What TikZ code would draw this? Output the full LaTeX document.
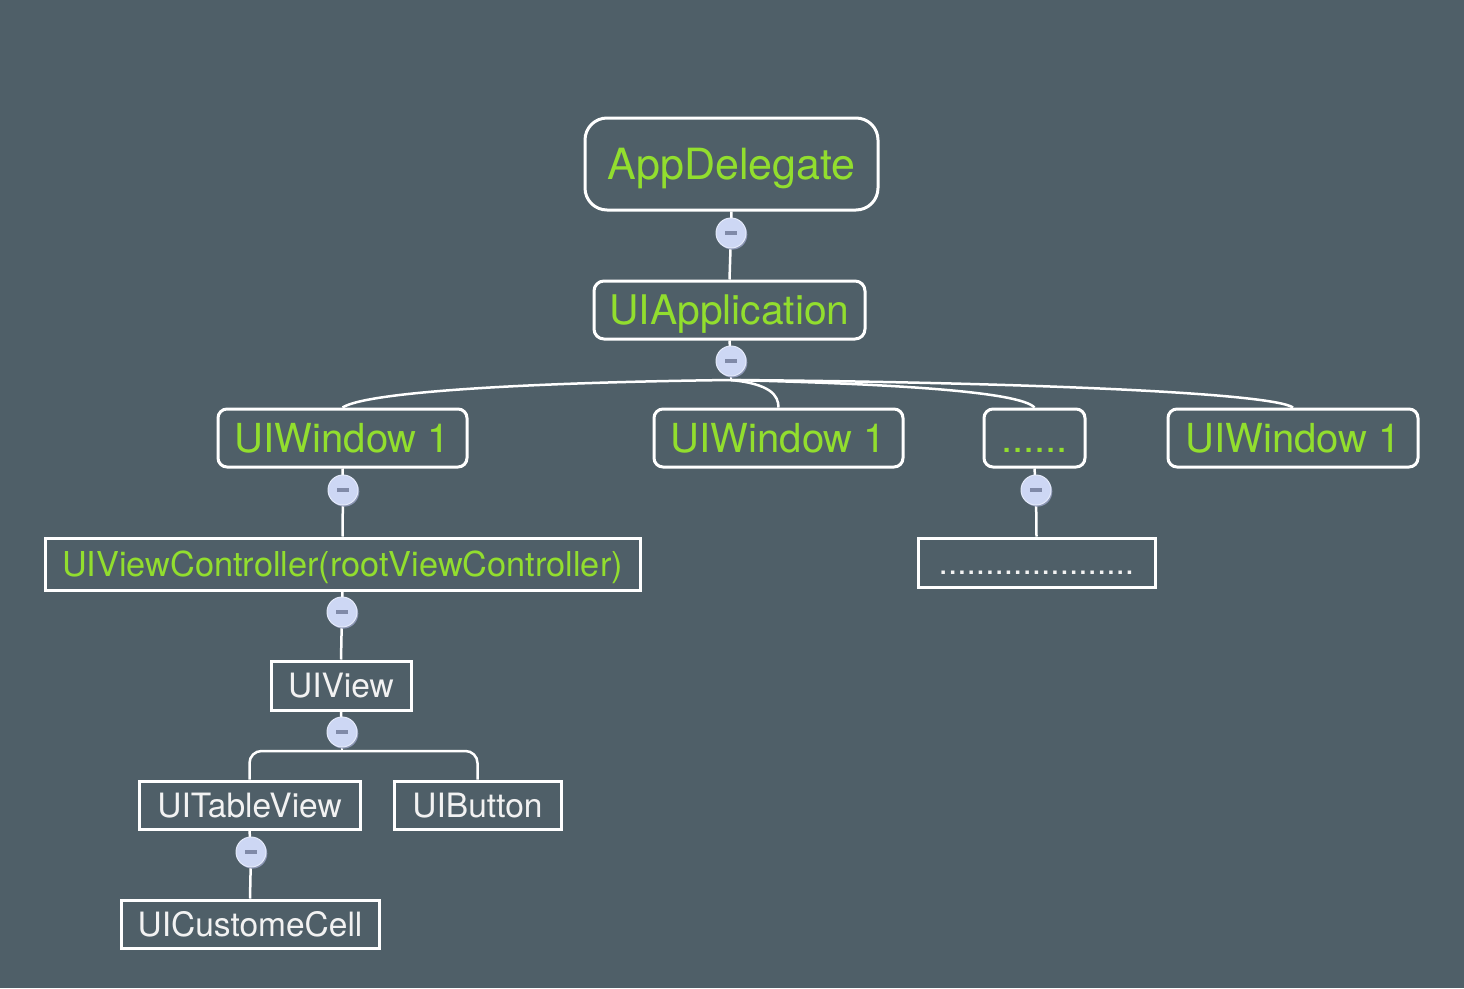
\documentclass[tikz,border=0pt]{standalone}
\usepackage{fontspec}
\setmainfont{TeX Gyre Heros}
\definecolor{bg}{RGB}{79,95,104}
\definecolor{grn}{RGB}{146,222,46}
\definecolor{knobfill}{RGB}{205,215,244}
\definecolor{knobedge}{RGB}{228,234,250}
\definecolor{knobshade}{RGB}{140,150,180}
\definecolor{minuscol}{RGB}{128,138,168}
\definecolor{txtwhite}{RGB}{242,242,242}
\tikzset{
  nb/.style={draw=white, line width=3pt, inner sep=0pt, text depth=0pt},
  rnd/.style={rounded corners=#1},
  gtxt/.style={text=grn},
  wtxt/.style={text=txtwhite},
  conn/.style={draw=white, line width=2.5pt},
  knob/.style={circle, fill=knobfill, draw=knobedge, line width=1pt, minimum size=30pt, inner sep=0pt,
    preaction={fill=knobshade, transform canvas={shift={(1.3pt,-1.6pt)}}},
    path picture={\draw[minuscol, line width=3.4pt] ([xshift=-6pt]path picture bounding box.center) -- ([xshift=6pt]path picture bounding box.center);}},
  big/.style={font=\fontsize{43}{43}\selectfont, text height=31pt},
  bigb/.style={font=\fontsize{40.8}{40.8}\selectfont, text height=29.4pt},
  mid/.style={font=\fontsize{40}{40}\selectfont, text height=28.8pt},
  sml/.style={font=\fontsize{33.5}{33.5}\selectfont, text height=24.1pt},
  vcf/.style={font=\fontsize{34.3}{34.3}\selectfont, text height=24.7pt},
}
\begin{document}
\begin{tikzpicture}[x=1pt,y=-1pt]
\fill[bg] (0,0) rectangle (1464,988);
\useasboundingbox (0,0) rectangle (1464,988);

% nodes
\node[nb, rnd=22pt, gtxt, big, minimum width=293pt, minimum height=92pt] (app) at (731.5,164) {AppDelegate};
\node[nb, rnd=10pt, gtxt, bigb, minimum width=271pt, minimum height=58pt] (uiapp) at (729.5,310) {UIApplication};
\node[nb, rnd=9pt, gtxt, mid, minimum width=249pt, minimum height=58pt] (w1) at (342.5,438) {UIWindow 1};
\node[nb, rnd=9pt, gtxt, mid, minimum width=249pt, minimum height=58pt] (w2) at (778.5,438) {UIWindow 1};
\node[nb, rnd=9pt, gtxt, mid, minimum width=101pt, minimum height=58pt] (w3) at (1034.5,438) {......};
\node[nb, rnd=9pt, gtxt, mid, minimum width=250pt, minimum height=58pt] (w4) at (1293,438) {UIWindow 1};
\node[nb, gtxt, vcf, minimum width=595pt, minimum height=52pt] (vc) at (342.5,564) {UIViewController(rootViewController)};
\node[nb, wtxt, sml, minimum width=237pt, minimum height=49pt] (dots) at (1036.5,562.5) {.....................};
\node[nb, wtxt, sml, minimum width=140pt, minimum height=49pt] (view) at (341,685.5) {UIView};
\node[nb, wtxt, sml, minimum width=221pt, minimum height=48pt] (table) at (249.5,805) {UITableView};
\node[nb, wtxt, sml, minimum width=167pt, minimum height=48pt] (button) at (477.5,805) {UIButton};
\node[nb, wtxt, sml, minimum width=258pt, minimum height=48pt] (cell) at (250,924) {UICustomeCell};

\coordinate (j2) at (731,380);
\coordinate (j6) at (342,751);

% connectors (drawn through knob centres, knobs on top)
\coordinate (k1c) at (731,233);
\coordinate (k2c) at (731,361);
\coordinate (k3c) at (343,490);
\coordinate (k4c) at (1036,490);
\coordinate (k5c) at (342,612);
\coordinate (k6c) at (342,732);
\coordinate (k7c) at (251,852);

\draw[conn] (app.south) -- (k1c);
\draw[conn] (k1c) -- (uiapp.north);
\draw[conn] (uiapp.south) -- (k2c);
\draw[conn] (k2c) -- (j2);
\draw[conn] (j2) .. controls (560,382) and (370,390) .. (w1.north);
\draw[conn] (j2) .. controls (770,384) and (778.5,395) .. (w2.north);
\draw[conn] (j2) .. controls (900,384) and (1020,392) .. (w3.north);
\draw[conn] (j2) .. controls (1000,382) and (1270,392) .. (w4.north);
\draw[conn] (w1.south) -- (k3c);
\draw[conn] (k3c) -- (vc.north);
\draw[conn] (w3.south) -- (k4c);
\draw[conn] (k4c) -- (dots.north);
\draw[conn] (vc.south) -- (k5c);
\draw[conn] (k5c) -- (view.north);
\draw[conn] (view.south) -- (k6c);
\draw[conn] (k6c) -- (j6);
\draw[conn, rounded corners=12pt] (table.north) |- (j6) -| (button.north);
\draw[conn] (table.south) -- (k7c);
\draw[conn] (k7c) -- (cell.north);

% knobs
\node[knob] (k1) at (k1c) {};
\node[knob] (k2) at (k2c) {};
\node[knob] (k3) at (k3c) {};
\node[knob] (k4) at (k4c) {};
\node[knob] (k5) at (k5c) {};
\node[knob] (k6) at (k6c) {};
\node[knob] (k7) at (k7c) {};
\end{tikzpicture}
\end{document}
